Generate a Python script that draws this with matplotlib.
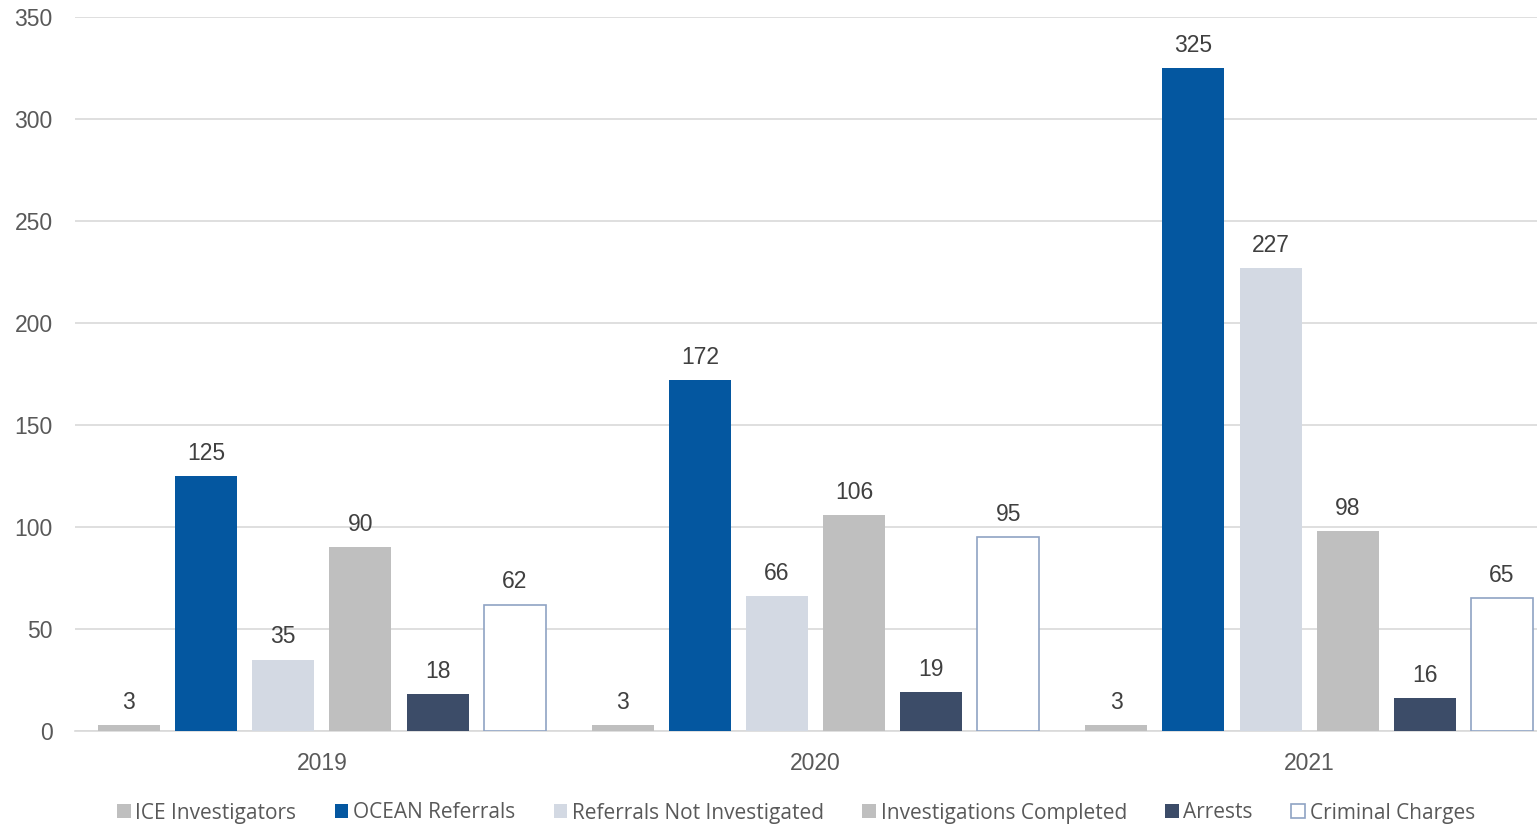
import matplotlib.pyplot as plt
import numpy as np

years = ["2019", "2020", "2021"]
series = ["ICE Investigators", "OCEAN Referrals", "Referrals Not Investigated",
          "Investigations Completed", "Arrests", "Criminal Charges"]
ice_investigators = [3, 3, 3]
ocean_referrals = [125, 172, 325]
not_investigated = [35, 66, 227]
investigations_completed = [90, 106, 98]
arrests = [18, 19, 16]
criminal_charges = [62, 95, 65]

values = [ice_investigators, ocean_referrals, not_investigated,
          investigations_completed, arrests, criminal_charges]
fills = ["#BFBFBF", "#0457A0", "#D3D9E3", "#BFBFBF", "#3C4C68", "white"]
edges = ["#BFBFBF", "#0457A0", "#D3D9E3", "#BFBFBF", "#3C4C68", "#8FA3C4"]

plt.rcParams["font.family"] = ["Liberation Sans", "DejaVu Sans"]

fig = plt.figure(figsize=(15.37, 8.26), dpi=100)
ax = fig.add_axes([75 / 1537, 95 / 826, (1556 - 75) / 1537, 714 / 826])

x = np.arange(len(years))
step = 0.1563
width = 0.1255
for i, (name, vals) in enumerate(zip(series, values)):
    pos = x + (i - 2.5) * step
    ax.bar(pos, vals, width, color=fills[i], edgecolor=edges[i],
           linewidth=1.2 if i == 5 else 0, label=name, zorder=3)
    for p, v in zip(pos, vals):
        ax.annotate(str(v), (p, v), xytext=(0, 8), textcoords="offset points",
                    ha="center", va="bottom", fontsize=16.5, color="#404040")

ax.set_xlim(-0.5, 2.5)
ax.set_ylim(0, 350)
ax.set_yticks(range(0, 351, 50))
ax.set_xticks(x)
ax.set_xticklabels(years)
ax.tick_params(axis="both", length=0, labelsize=16.5, labelcolor="#595959")
ax.tick_params(axis="x", pad=15)
ax.tick_params(axis="y", pad=16)
ax.grid(axis="y", color="#D9D9D9", linewidth=1.2, zorder=0)
for s in ["top", "right", "left"]:
    ax.spines[s].set_visible(False)
ax.spines["bottom"].set_color("#D9D9D9")
ax.spines["bottom"].set_linewidth(1.2)

fig.legend(loc="center", bbox_to_anchor=(796 / 1537, 1 - 813 / 826), ncol=6,
           frameon=False, prop={"family": "Open Sans", "size": 15},
           handlelength=0.65, handleheight=0.65, handletextpad=0.22,
           columnspacing=1.85, labelcolor="#595959")

fig.savefig("out.png", dpi=100)
